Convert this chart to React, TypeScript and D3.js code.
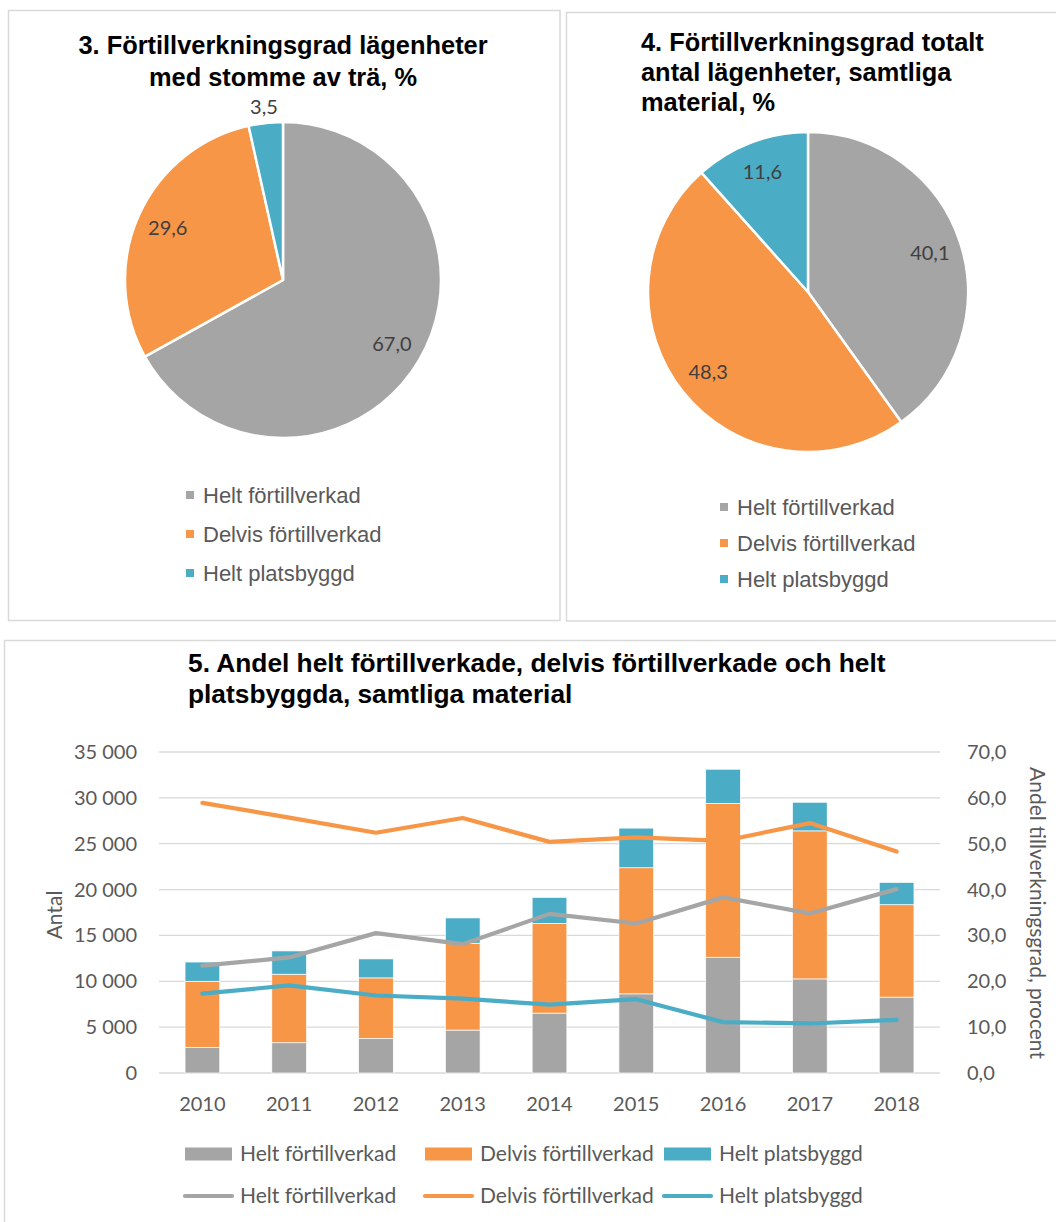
import React from 'react';
import * as d3 from 'd3';

const pieCategories = ['Helt förtillverkad', 'Delvis förtillverkad', 'Helt platsbyggd'];
const pie3Values = [67.0, 29.6, 3.5];
const pie4Values = [40.1, 48.3, 11.6];

const years = ['2010', '2011', '2012', '2013', '2014', '2015', '2016', '2017', '2018'];
const heltAntal = [2800, 3300, 3770, 4680, 6530, 8630, 12620, 10260, 8270];
const delvisAntal = [7200, 7470, 6600, 9470, 9760, 13750, 16760, 16140, 10080];
const platsAntal = [2100, 2540, 2070, 2760, 2860, 4320, 3740, 3120, 2430];
const heltAndel = [23.4, 25.2, 30.5, 28.1, 34.7, 32.6, 38.3, 34.8, 40.1];
const delvisAndel = [58.9, 55.7, 52.4, 55.6, 50.4, 51.4, 50.6, 54.5, 48.3];
const platsAndel = [17.3, 19.1, 16.9, 16.2, 14.9, 16.1, 11.1, 10.8, 11.6];
const leftTicks = [0, 5000, 10000, 15000, 20000, 25000, 30000, 35000];
const rightTicks = [0, 10, 20, 30, 40, 50, 60, 70];

const COLORS = ['#a5a5a5', '#f79646', '#4bacc6'];
const TXT = '#595959';
const ARIAL = '"Liberation Sans", Arial, sans-serif';
const CAL = 'Lato, "Open Sans", sans-serif';

const locale = d3.formatLocale({ decimal: ',', thousands: ' ', grouping: [3], currency: ['', ''] });
const fmtInt = locale.format(',.0f');
const fmtDec = locale.format('.1f');

function Pie({ values, cx, cy, r }: { values: number[]; cx: number; cy: number; r: number }) {
  const pie = d3.pie<number>().sort(null).value((d) => d);
  const arcs = pie(values);
  const total = d3.sum(values);
  const arc = d3.arc<d3.PieArcDatum<number>>().innerRadius(0).outerRadius(r);
  return (
    <g transform={`translate(${cx},${cy})`}>
      {arcs.map((a, i) => (
        <path key={i} d={arc(a) || ''} fill={COLORS[i]} stroke="#fff" strokeWidth={2.5} strokeLinejoin="round" />
      ))}
      {arcs.map((a, i) => {
        const mid = (a.startAngle + a.endAngle) / 2;
        const k = a.data / total < 0.05 ? 1.1 : 0.8;
        const x = Math.sin(mid) * r * k;
        const y = -Math.cos(mid) * r * k;
        return (
          <text key={'l' + i} x={x} y={y} dy="0.35em" textAnchor="middle" fontFamily={CAL} fontSize={20} fill="#404040">
            {fmtDec(a.data)}
          </text>
        );
      })}
    </g>
  );
}

function PieLegend({ x, y0, dy }: { x: number; y0: number; dy: number }) {
  return (
    <g>
      {pieCategories.map((c, i) => (
        <g key={c} transform={`translate(${x},${y0 + i * dy})`}>
          <rect x={-17} y={-4} width={8} height={8} fill={COLORS[i]} />
          <text x={0} y={0} dy="0.35em" fontFamily={ARIAL} fontSize={22} fill={TXT}>
            {c}
          </text>
        </g>
      ))}
    </g>
  );
}

function BarChart() {
  const x = d3.scaleBand<string>().domain(years).range([159, 940]).paddingInner(0.6).paddingOuter(0.3);
  const yL = d3.scaleLinear().domain([0, 35000]).range([1073, 752]);
  const yR = d3.scaleLinear().domain([0, 70]).range([1073, 752]);
  const stackInput = years.map((yr, i) => ({ year: yr, a: heltAntal[i], b: delvisAntal[i], c: platsAntal[i] }));
  const stack = d3.stack<any>().keys(['a', 'b', 'c'])(stackInput);
  const lineGen = d3
    .line<number>()
    .x((_, i) => (x(years[i]) as number) + x.bandwidth() / 2)
    .y((d) => yR(d));
  const lines = [heltAndel, delvisAndel, platsAndel];
  const legendX = [185, 425, 664];
  return (
    <g>
      {leftTicks.map((t) => (
        <g key={t}>
          <line x1={159} x2={940} y1={yL(t)} y2={yL(t)} stroke="#d9d9d9" strokeWidth={1.3} />
          <text x={137} y={yL(t)} dy="0.35em" textAnchor="end" fontFamily={CAL} fontSize={20} fill={TXT}>
            {fmtInt(t)}
          </text>
        </g>
      ))}
      {rightTicks.map((t) => (
        <text key={t} x={967} y={yR(t)} dy="0.35em" textAnchor="start" fontFamily={CAL} fontSize={20} fill={TXT}>
          {fmtDec(t)}
        </text>
      ))}
      {stack.map((s, si) => (
        <g key={si}>
          {s.map((d, i) => (
            <rect
              key={i}
              x={x(years[i])}
              width={x.bandwidth()}
              y={yL(d[1])}
              height={yL(d[0]) - yL(d[1])}
              fill={COLORS[si]}
              stroke="#fff"
              strokeWidth={0.7}
            />
          ))}
        </g>
      ))}
      {lines.map((l, i) => (
        <path key={i} d={lineGen(l) || ''} fill="none" stroke={COLORS[i]} strokeWidth={4.2} strokeLinecap="round" strokeLinejoin="round" />
      ))}
      {years.map((yr) => (
        <text key={yr} x={(x(yr) as number) + x.bandwidth() / 2} y={1104} dy="0.35em" textAnchor="middle" fontFamily={CAL} fontSize={20} fill={TXT}>
          {yr}
        </text>
      ))}
      <text transform="translate(55,915) rotate(-90)" textAnchor="middle" dy="0.35em" fontFamily={CAL} fontSize={21} fill={TXT}>
        Antal
      </text>
      <text transform="translate(1037,913) rotate(90)" textAnchor="middle" dy="0.35em" fontFamily={CAL} fontSize={21} fill={TXT}>
        Andel tillverkningsgrad, procent
      </text>
      {pieCategories.map((c, i) => (
        <g key={'bl' + i} transform={`translate(${legendX[i]},1154)`}>
          <rect x={0} y={-6.5} width={47} height={13} fill={COLORS[i]} />
          <text x={55} y={0} dy="0.35em" fontFamily={CAL} fontSize={21} fill={TXT}>
            {c}
          </text>
        </g>
      ))}
      {pieCategories.map((c, i) => (
        <g key={'ll' + i} transform={`translate(${legendX[i]},1196)`}>
          <line x1={0} x2={47} y1={0} y2={0} stroke={COLORS[i]} strokeWidth={4.2} strokeLinecap="round" />
          <text x={55} y={0} dy="0.35em" fontFamily={CAL} fontSize={21} fill={TXT}>
            {c}
          </text>
        </g>
      ))}
    </g>
  );
}

export default function App() {
  return (
    <svg width={1056} height={1222} style={{ position: 'absolute', left: 0, top: 0, background: '#fff' }}>
      <rect x={0} y={0} width={1056} height={1222} fill="#fff" />
      {/* panels */}
      <rect x={8.5} y={10.5} width={551.5} height={610} fill="#fff" stroke="#d9d9d9" strokeWidth={1.5} />
      <rect x={566.5} y={12.5} width={500} height={608.5} fill="#fff" stroke="#d9d9d9" strokeWidth={1.5} />
      <rect x={4.5} y={640.5} width={1060} height={600} fill="#fff" stroke="#d9d9d9" strokeWidth={1.5} />

      {/* chart 3 */}
      <text x={283} y={54} textAnchor="middle" fontFamily={ARIAL} fontWeight="bold" fontSize={25.4} fill="#000">
        3. Förtillverkningsgrad lägenheter
      </text>
      <text x={283} y={86} textAnchor="middle" fontFamily={ARIAL} fontWeight="bold" fontSize={25.4} fill="#000">
        med stomme av trä, %
      </text>
      <Pie values={pie3Values} cx={283} cy={280} r={158} />
      <PieLegend x={203} y0={495} dy={39} />

      {/* chart 4 */}
      <text fontFamily={ARIAL} fontWeight="bold" fontSize={25.4} fill="#000">
        <tspan x={641} y={51}>4. Förtillverkningsgrad totalt</tspan>
        <tspan x={641} y={81}>antal lägenheter, samtliga</tspan>
        <tspan x={641} y={111}>material, %</tspan>
      </text>
      <Pie values={pie4Values} cx={808} cy={292} r={160} />
      <PieLegend x={737} y0={507} dy={36} />

      {/* chart 5 */}
      <text fontFamily={ARIAL} fontWeight="bold" fontSize={26.3} fill="#000">
        <tspan x={188} y={672}>5. Andel helt förtillverkade, delvis förtillverkade och helt</tspan>
        <tspan x={188} y={703}>platsbyggda, samtliga material</tspan>
      </text>
      <BarChart />
    </svg>
  );
}
